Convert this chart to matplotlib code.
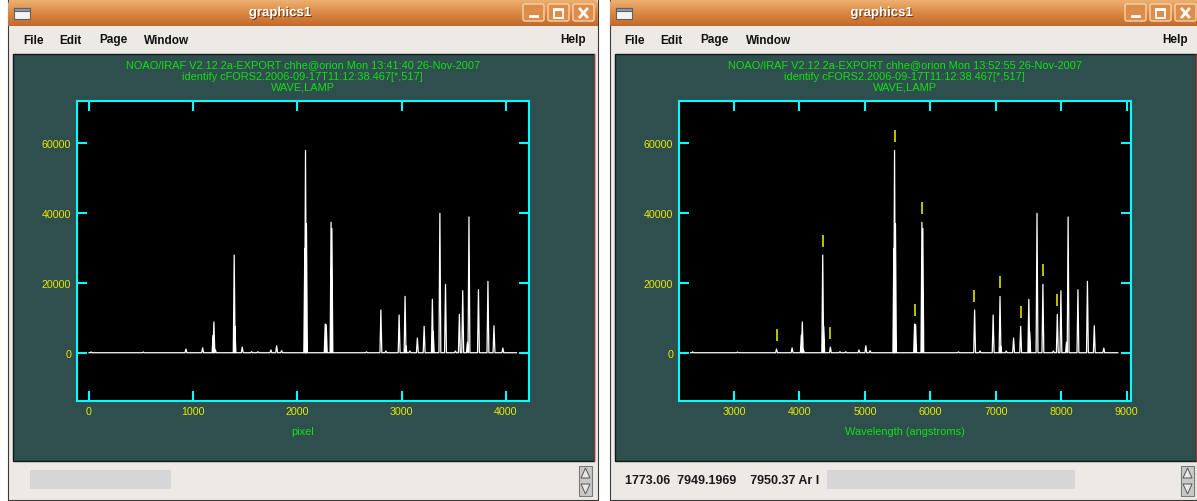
import matplotlib
matplotlib.use('Agg')
import matplotlib.pyplot as plt
import matplotlib.patheffects as pe
import numpy as np
from matplotlib.patches import Rectangle, FancyBboxPatch, Polygon
from matplotlib.colors import LinearSegmentedColormap

W, H = 1197, 502

# arc lamp lines: position on the detector, fitted wavelength, peak counts
pixels = [20, 521, 930, 1090, 1190, 1198, 1212, 1393, 1400, 1470,
          1560, 1620, 1745, 1800, 1848, 2070, 2077, 2086, 2266, 2276,
          2322, 2330, 2662, 2800, 2848, 2975, 3032, 3040, 3078, 3150,
          3215, 3294, 3302, 3366, 3420, 3515, 3553, 3585, 3630, 3645,
          3736, 3827, 3885, 3970]
waves = [2370, 3056, 3651, 3889, 4030, 4045, 4062, 4357, 4372, 4474,
         4620, 4710, 4910, 5015, 5080, 5443, 5454, 5468, 5760, 5776,
         5872, 5886, 6430, 6677, 6760, 6960, 7065, 7075, 7160, 7272,
         7380, 7505, 7518, 7630, 7720, 7880, 7940, 7995, 8080, 8105,
         8255, 8400, 8505, 8650]
counts = [250, 200, 1050, 1400, 5000, 8800, 800, 27900, 7500, 1600,
          300, 300, 800, 2000, 600, 29800, 57800, 36800, 8200, 8000,
          37250, 35500, 250, 12200, 500, 10770, 16100, 1900, 500, 4200,
          7540, 15260, 6000, 39830, 19540, 500, 10970, 17720, 3000, 38770,
          18000, 20400, 7700, 1340]
pix_range = (0, 4100)
wave_range = (2340, 8864)

# lines marked by identify
id_waves = [3651, 4361, 4469, 5454, 5768, 5870, 6672, 7067, 7384, 7720, 7939]

left_title = ["NOAO/IRAF V2.12.2a-EXPORT chhe@orion Mon 13:41:40 26-Nov-2007",
              "identify cFORS2.2006-09-17T11:12:38.467[*,517]",
              "WAVE,LAMP"]
right_title = ["NOAO/IRAF V2.12.2a-EXPORT chhe@orion Mon 13:52:55 26-Nov-2007",
               "identify cFORS2.2006-09-17T11:12:38.467[*,517]",
               "WAVE,LAMP"]
left_xticks = [0, 1000, 2000, 3000, 4000]
right_xticks = [3000, 4000, 5000, 6000, 7000, 8000, 9000]
yticks = [0, 20000, 40000, 60000]
menus = ["File", "Edit", "Page", "Window"]
status_text = "1773.06  7949.1969    7950.37 Ar I"

IRAF_FONT = ['Liberation Sans', 'DejaVu Sans']
UI_FONT = ['Liberation Sans', 'DejaVu Sans']
TEAL = '#2f4f4f'
GREEN = '#10e010'
YELLOW = '#e8e800'
CYAN = '#00ffff'

fig = plt.figure(figsize=(W / 100, H / 100), dpi=100)
fig.patch.set_facecolor('white')
bg = fig.add_axes([0, 0, 1, 1])
bg.axis('off')

bar_cmap = LinearSegmentedColormap.from_list('bar', ['#eeb274', '#dc8a45', '#c26a2c'])


def draw_window(x0, x1, title, status=None):
    bg.add_patch(Rectangle((x0, 0), x1 - x0, 501, facecolor='#edeae5',
                           edgecolor='#3a3a3a', lw=0.8, zorder=1))
    # title bar
    grad = np.linspace(0, 1, 40).reshape(-1, 1)
    im = bg.imshow(grad, extent=(x0, x1, 27, 0), cmap=bar_cmap, aspect='auto',
                   interpolation='bilinear', zorder=2)
    clip = FancyBboxPatch((x0, 0), x1 - x0, 40, boxstyle='round,pad=0,rounding_size=6',
                          transform=bg.transData)
    im.set_clip_path(clip)
    bg.text(x0 + 272, 14, title, color='white', fontsize=9.5, weight='bold',
            family=UI_FONT, ha='center', va='center', zorder=5,
            path_effects=[pe.withSimplePatchShadow(offset=(0.8, -0.8),
                                                   shadow_rgbFace='#5a3010', alpha=0.8)])
    # window icon
    bg.add_patch(Rectangle((x0 + 6, 9), 16, 11, facecolor='#f4f4f4', edgecolor='#606060',
                           lw=0.8, zorder=3))
    bg.add_patch(Rectangle((x0 + 6, 9), 16, 3, facecolor='#8a9ab0', edgecolor='#606060',
                           lw=0.8, zorder=3))
    # title bar buttons
    for i, kind in enumerate(['min', 'max', 'close']):
        bx = x1 - 75 + 25 * i
        bg.add_patch(FancyBboxPatch((bx, 5), 21, 17, boxstyle='round,pad=0,rounding_size=2',
                                    facecolor='#dd8d4a', edgecolor='#f6d3ac', lw=1, zorder=3))
        if kind == 'min':
            bg.plot([bx + 7, bx + 14], [17, 17], color='white', lw=2, zorder=4)
        elif kind == 'max':
            bg.add_patch(Rectangle((bx + 6, 9.5), 9, 9, facecolor='none', edgecolor='white',
                                   lw=1.3, zorder=4))
            bg.plot([bx + 6, bx + 15], [10.5, 10.5], color='white', lw=1.5, zorder=4)
        else:
            bg.plot([bx + 7, bx + 14], [10, 18], color='white', lw=2, zorder=4)
            bg.plot([bx + 7, bx + 14], [18, 10], color='white', lw=2, zorder=4)
    # menu bar
    for name, off in zip(menus, [15, 51, 91, 136]):
        bg.text(x0 + off, 40.5, name, fontsize=8.5, weight='bold', family=UI_FONT,
                color='#111111', ha='left', va='center')
    bg.text(x1 - 12, 40.5, "Help", fontsize=8.5, weight='bold', family=UI_FONT,
            color='#111111', ha='right', va='center')
    # graphics area
    bg.add_patch(Rectangle((x0 + 5, 55), (x1 - 4) - (x0 + 5), 407, facecolor=TEAL,
                           edgecolor='#101818', lw=1, zorder=2))
    bg.plot([x1 - 4, x1 - 4], [55, 462], color='#8a3c3c', lw=1, zorder=3)
    # status line and scroll buttons
    if status is None:
        bg.add_patch(Rectangle((x0 + 21.5, 471), 141, 19, facecolor='#d6d6d6',
                               edgecolor='none', zorder=2))
    else:
        bg.text(x0 + 15, 481, status, fontsize=9, weight='bold', family=UI_FONT,
                color='#1a1a1a', ha='left', va='center')
        bg.add_patch(Rectangle((827, 471), 248, 19, facecolor='#d6d6d6', edgecolor='none',
                               zorder=2))
    sx = x1 - 19
    bg.add_patch(Rectangle((sx, 467), 13, 30, facecolor='#c9c9c9', edgecolor='#7a7a7a',
                           lw=0.8, zorder=2))
    bg.add_patch(Polygon([[sx + 2, 479], [sx + 6.5, 469], [sx + 11, 479]], closed=True,
                         facecolor='#e8e8e8', edgecolor='#555555', lw=0.7, zorder=3))
    bg.add_patch(Polygon([[sx + 2, 485], [sx + 6.5, 495], [sx + 11, 485]], closed=True,
                         facecolor='#e8e8e8', edgecolor='#555555', lw=0.7, zorder=3))


draw_window(8, 598, "graphics1")
draw_window(609.6, 1200, "graphics1", status_text)
bg.set_xlim(0, W)
bg.set_ylim(H, 0)


def spectrum(centers, heights, half, lo, hi):
    xs, ys = [lo], [0]
    for c, h in sorted(zip(centers, heights)):
        xs += [c - half, c, c + half]
        ys += [0, h, 0]
    xs.append(hi)
    ys.append(0)
    return xs, ys


def make_axes(left_px, xlim, xticks, titles, xlabel):
    ax = fig.add_axes([left_px / W, 1 - 401.7 / H, 452 / W, 300 / H])
    ax.set_facecolor('black')
    ax.set_xlim(*xlim)
    ax.set_ylim(-13700, 72000)
    ax.set_xticks(xticks)
    ax.set_yticks(yticks)
    ax.tick_params(direction='in', length=7.5, width=1.5, color=CYAN, top=True, right=True,
                   labelcolor=YELLOW, labelsize=7.7, pad=4)
    for lbl in ax.get_xticklabels() + ax.get_yticklabels():
        lbl.set_family(IRAF_FONT)
    for sp in ax.spines.values():
        sp.set_color(CYAN)
        sp.set_linewidth(1.5)
    cx = left_px + 226
    for i, line in enumerate(titles):
        bg.text(cx, 65 + 11.5 * i, line, color=GREEN, fontsize=7.9, family=IRAF_FONT,
                ha='center', va='center')
    bg.text(cx, 432, xlabel, color=GREEN, fontsize=7.9, family=IRAF_FONT,
            ha='center', va='center')
    return ax


# pixel space
ax1 = make_axes(76.7, (-118, 4218), left_xticks, left_title, "pixel")
xs, ys = spectrum(pixels, counts, 9, *pix_range)
ax1.plot(xs, ys, color='white', lw=0.9)

# wavelength space with identified lines
ax2 = make_axes(678.7, (2157, 9061), right_xticks, right_title, "Wavelength (angstroms)")
xs, ys = spectrum(waves, counts, 14, *wave_range)
ax2.plot(xs, ys, color='white', lw=0.9)
for w in id_waves:
    h = counts[int(np.argmin(np.abs(np.array(waves) - w)))]
    ax2.vlines(w, h + 2400, h + 5800, color='#e0e000', lw=1.2)

fig.savefig('out.png', dpi=100, facecolor=fig.get_facecolor())
